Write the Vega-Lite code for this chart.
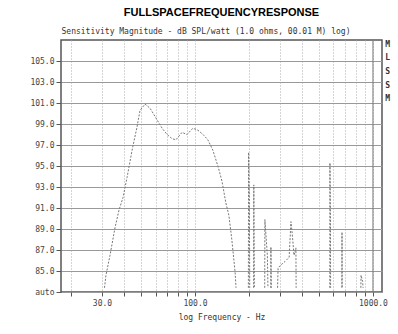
{
  "$schema": "https://vega.github.io/schema/vega-lite/v6.json",
  "autosize": "none",
  "width": 321,
  "height": 252,
  "padding": {"left": 61, "top": 40, "right": 16, "bottom": 42},
  "background": "white",
  "title": {
    "text": "FULLSPACEFREQUENCYRESPONSE",
    "font": "Liberation Sans",
    "fontSize": 11,
    "fontWeight": "bold",
    "color": "#000000",
    "anchor": "middle",
    "offset": 9
  },
  "config": {
    "view": {"stroke": "#555555", "strokeWidth": 1.5},
    "axis": {
      "labelFont": "DejaVu Sans Mono",
      "labelFontSize": 8,
      "labelColor": "#444444",
      "titleFont": "DejaVu Sans Mono",
      "titleFontSize": 8,
      "titleFontWeight": "normal",
      "titleColor": "#333333",
      "tickColor": "#555555",
      "domain": false
    }
  },
  "layer": [
    {
      "data": {
        "values": [
          {"f": 31.0, "db": 83.4, "s": 1}, {"f": 31.6, "db": 84.6, "s": 1}, {"f": 33.3, "db": 86.5, "s": 1},
          {"f": 35.5, "db": 89.1, "s": 1}, {"f": 37.4, "db": 90.8, "s": 1}, {"f": 39.4, "db": 92.0, "s": 1},
          {"f": 41.5, "db": 93.9, "s": 1}, {"f": 44.3, "db": 96.5, "s": 1}, {"f": 47.2, "db": 98.7, "s": 1},
          {"f": 49.1, "db": 100.3, "s": 1}, {"f": 52.4, "db": 100.9, "s": 1}, {"f": 55.9, "db": 100.5, "s": 1},
          {"f": 61.2, "db": 99.4, "s": 1}, {"f": 65.3, "db": 98.6, "s": 1}, {"f": 69.7, "db": 98.0, "s": 1},
          {"f": 74.3, "db": 97.6, "s": 1}, {"f": 78.2, "db": 97.5, "s": 1}, {"f": 84.5, "db": 98.2, "s": 1},
          {"f": 90.2, "db": 98.0, "s": 1}, {"f": 97.4, "db": 98.6, "s": 1}, {"f": 104, "db": 98.4, "s": 1},
          {"f": 111, "db": 98.0, "s": 1}, {"f": 118, "db": 97.5, "s": 1}, {"f": 126, "db": 96.5, "s": 1},
          {"f": 135, "db": 94.9, "s": 1}, {"f": 142, "db": 93.5, "s": 1}, {"f": 149, "db": 91.5, "s": 1},
          {"f": 155, "db": 90.3, "s": 1}, {"f": 161, "db": 88.0, "s": 1}, {"f": 168, "db": 84.9, "s": 1},
          {"f": 170, "db": 83.4, "s": 1},
          {"f": 199.5, "db": 83.4, "s": 2}, {"f": 200, "db": 96.3, "s": 2}, {"f": 202, "db": 92.0, "s": 2},
          {"f": 203, "db": 83.4, "s": 2},
          {"f": 213.5, "db": 83.4, "s": 3}, {"f": 214, "db": 93.2, "s": 3}, {"f": 215.5, "db": 83.4, "s": 3},
          {"f": 246.5, "db": 83.4, "s": 4}, {"f": 247, "db": 89.9, "s": 4}, {"f": 255, "db": 86.5, "s": 4},
          {"f": 257, "db": 83.4, "s": 4},
          {"f": 266.5, "db": 83.4, "s": 5}, {"f": 267, "db": 87.3, "s": 5}, {"f": 268.5, "db": 83.4, "s": 5},
          {"f": 291, "db": 83.4, "s": 6}, {"f": 293, "db": 85.3, "s": 6}, {"f": 305, "db": 85.6, "s": 6},
          {"f": 320, "db": 85.9, "s": 6}, {"f": 338, "db": 86.3, "s": 6}, {"f": 346, "db": 89.7, "s": 6},
          {"f": 352, "db": 88.5, "s": 6}, {"f": 360, "db": 86.5, "s": 6}, {"f": 369, "db": 87.2, "s": 6},
          {"f": 370, "db": 83.4, "s": 6},
          {"f": 572, "db": 83.4, "s": 7}, {"f": 573, "db": 95.3, "s": 7}, {"f": 577, "db": 90.0, "s": 7},
          {"f": 578, "db": 83.4, "s": 7},
          {"f": 669, "db": 83.4, "s": 8}, {"f": 670, "db": 88.7, "s": 8}, {"f": 671, "db": 83.4, "s": 8},
          {"f": 855, "db": 83.4, "s": 9}, {"f": 857, "db": 84.6, "s": 9}, {"f": 875, "db": 84.0, "s": 9},
          {"f": 880, "db": 83.4, "s": 9}
        ]
      },
      "mark": {"type": "line", "color": "#777777", "strokeWidth": 1, "strokeDash": [2, 1.5], "clip": true},
      "encoding": {
        "x": {
          "field": "f",
          "type": "quantitative",
          "scale": {"type": "log", "domain": [17.66, 1124], "nice": false},
          "axis": {
            "orient": "bottom",
            "title": "log Frequency - Hz",
            "values": [20, 30, 40, 50, 60, 70, 80, 90, 100, 200, 300, 400, 500, 600, 700, 800, 900, 1000],
            "labelExpr": "datum.value == 30 || datum.value == 100 || datum.value == 1000 ? format(datum.value, '.1f') : ''",
            "labelOverlap": false,
            "labelBound": false,
            "labelFlush": false,
            "grid": true,
            "gridColor": "#aaaaaa",
            "gridDash": [1, 2],
            "tickSize": 4,
            "labelPadding": 3,
            "titlePadding": 6
          }
        },
        "y": {
          "field": "db",
          "type": "quantitative",
          "scale": {"domain": [83, 107], "nice": false, "zero": false},
          "axis": {
            "title": null,
            "values": [83, 85, 87, 89, 91, 93, 95, 97, 99, 101, 103, 105],
            "labelExpr": "datum.value == 83 ? 'auto' : format(datum.value, '.1f')",
            "labelOverlap": false,
            "labelBound": false,
            "labelFlush": false,
            "grid": true,
            "gridColor": "#999999",
            "tickSize": 5,
            "labelPadding": 2
          }
        },
        "detail": {"field": "s", "type": "nominal"}
      }
    },
    {
      "data": {"values": [{"f": 1000}]},
      "mark": {"type": "rule", "color": "#777777", "strokeWidth": 1},
      "encoding": {
        "x": {"field": "f", "type": "quantitative", "axis": null}
      }
    },
    {
      "data": {
        "values": [
          {"f": 1210, "db": 106.5, "t": "M"},
          {"f": 1210, "db": 105.3, "t": "L"},
          {"f": 1210, "db": 104.0, "t": "S"},
          {"f": 1210, "db": 102.6, "t": "S"},
          {"f": 1210, "db": 101.4, "t": "M"}
        ]
      },
      "mark": {"type": "text", "font": "DejaVu Sans Mono", "fontSize": 8, "fontWeight": "bold", "color": "#333333", "clip": false},
      "encoding": {
        "x": {
          "field": "f",
          "type": "quantitative",
          "axis": {
            "orient": "top",
            "title": "Sensitivity Magnitude - dB SPL/watt (1.0 ohms, 00.01 M) log)",
            "titleAnchor": "start",
            "titleFontSize": 8,
            "titlePadding": 5,
            "labels": false,
            "ticks": false,
            "grid": false,
            "domain": false
          }
        },
        "y": {
          "field": "db",
          "type": "quantitative",
          "axis": {
            "title": null,
            "values": [83, 85, 87, 89, 91, 93, 95, 97, 99, 101, 103, 105],
            "labelExpr": "datum.value == 83 ? 'auto' : format(datum.value, '.1f')",
            "labelOverlap": false,
            "labelBound": false,
            "labelFlush": false,
            "grid": true,
            "gridColor": "#999999",
            "tickSize": 5,
            "labelPadding": 2
          }
        },
        "text": {"field": "t", "type": "nominal"}
      }
    }
  ],
  "resolve": {"axis": {"x": "independent"}}
}
